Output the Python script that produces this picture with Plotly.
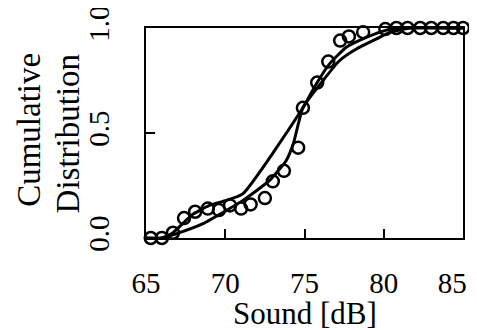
import plotly.graph_objects as go

# Observed data (circles)
obs_x = [64.6, 65.3, 66.0, 66.7, 67.4, 68.1, 68.9, 69.6, 70.3, 71.0, 71.6, 72.5, 73.0,
         73.7, 74.6, 74.9, 75.8, 76.5, 77.25, 77.8, 78.7, 80.1, 80.8, 81.5, 82.3, 83.0,
         83.75, 84.4, 85.0]
obs_y = [0.0, 0.0, 0.0, 0.025, 0.095, 0.125, 0.14, 0.133, 0.155, 0.14, 0.16, 0.19, 0.27,
         0.32, 0.43, 0.62, 0.74, 0.84, 0.94, 0.96, 0.98, 0.995, 1.0, 1.0, 1.0, 1.0,
         1.0, 1.0, 1.0]

# Fitted curve A
fit_a_x = [65.0, 66.0, 66.7, 67.9, 69.0, 70.0, 71.1, 74.9, 75.74, 76.58, 77.64, 78.9,
           80.17, 81.0, 85.0]
fit_a_y = [0.0, 0.0, 0.025, 0.11, 0.155, 0.178, 0.21, 0.62, 0.733, 0.829, 0.908, 0.955,
           0.99, 1.0, 1.0]

# Fitted curve B
fit_b_x = [65.0, 66.0, 66.9, 68.56, 70.04, 71.1, 72.78, 73.84, 74.3, 74.9, 76.16, 77.2,
           78.27, 79.54, 80.38, 81.65, 85.0]
fit_b_y = [0.0, 0.0, 0.02, 0.067, 0.13, 0.178, 0.273, 0.368, 0.45, 0.62, 0.749, 0.844,
           0.9, 0.948, 0.979, 1.0, 1.0]

x_ticks = [65, 70, 75, 80, 85]
x_tick_text = ["65", "70", "75", "80", "85\u00a0\u00a0\u00a0"]
y_ticks = [0.0, 0.5, 1.0]
y_tick_text = ["0.0", "0.5", "1.0"]

FONT = "Liberation Serif"

fig = go.Figure()
fig.add_trace(go.Scatter(x=fit_a_x, y=fit_a_y, mode="lines",
                         line=dict(color="black", width=3, shape="spline", smoothing=0.5),
                         cliponaxis=False, showlegend=False))
fig.add_trace(go.Scatter(x=fit_b_x, y=fit_b_y, mode="lines",
                         line=dict(color="black", width=3, shape="spline", smoothing=0.5),
                         cliponaxis=False, showlegend=False))
fig.add_trace(go.Scatter(x=obs_x, y=obs_y, mode="markers",
                         marker=dict(symbol="circle-open", size=12, color="black",
                                     line=dict(width=2.5, color="black")),
                         cliponaxis=False, showlegend=False))

# page body has an 8px default margin, so the figure is sized to fit the window
fig.update_layout(
    width=469, height=322,
    margin=dict(l=138, r=14, t=20, b=92),
    paper_bgcolor="white", plot_bgcolor="white",
    font=dict(family=FONT, size=29, color="black"),
    xaxis=dict(range=[65, 85], tickvals=x_ticks, ticktext=x_tick_text, ticks="inside",
               ticklen=9, tickwidth=1.5, tickcolor="black", showline=True, linewidth=2,
               linecolor="black", mirror=True, showgrid=False, zeroline=False,
               automargin=False, ticklabelstandoff=18, ticklabeloverflow="allow",
               tickfont=dict(family=FONT, size=29)),
    yaxis=dict(range=[0, 1], tickvals=y_ticks, ticktext=y_tick_text, ticks="inside",
               ticklen=9, tickwidth=1.5, tickcolor="black", showline=True, linewidth=2,
               linecolor="black", mirror=True, showgrid=False, zeroline=False,
               automargin=False, tickangle=-90, ticklabelstandoff=23,
               ticklabeloverflow="allow", tickfont=dict(family=FONT, size=29)),
    annotations=[
        dict(text="Sound [dB]", xref="paper", yref="paper", x=0.5, y=-0.36,
             xanchor="center", yanchor="middle", showarrow=False,
             font=dict(family=FONT, size=31)),
        dict(text="Cumulative", xref="paper", yref="paper", x=-0.37, y=0.89,
             xanchor="center", yanchor="top", textangle=-90, showarrow=False,
             font=dict(family=FONT, size=33)),
        dict(text="Distribution", xref="paper", yref="paper", x=-0.245, y=0.89,
             xanchor="center", yanchor="top", textangle=-90, showarrow=False,
             font=dict(family=FONT, size=33)),
    ],
)

fig.write_html("out.html")
